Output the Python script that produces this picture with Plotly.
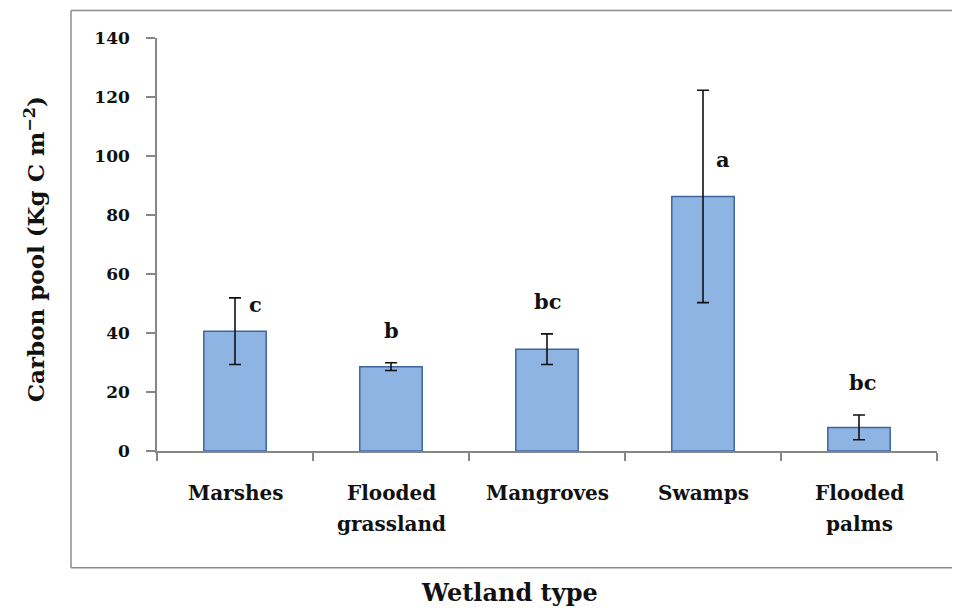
import plotly.graph_objects as go

# ---- data ----
categories = ["Marshes", "Flooded grassland", "Mangroves", "Swamps", "Flooded palms"]
label_line1 = ["Marshes", "Flooded", "Mangroves", "Swamps", "Flooded"]
label_line2 = ["", "grassland", "", "", "palms"]
carbon_pool = [40.6, 28.6, 34.5, 86.3, 8.0]
std_error = [11.3, 1.3, 5.2, 36.0, 4.2]
sig_letters = ["c", "b", "bc", "a", "bc"]
y_ticks = [0, 20, 40, 60, 80, 100, 120, 140]

FONT = "Palatino Linotype, Book Antiqua, Palatino, DejaVu Serif, serif"
TXT = "#111111"
AXC = "#868686"

OFF = 8  # page body margin
W, H = 960 - OFF, 610 - OFF
# plot area in page pixels
PX0, PX1, PY0, PY1 = 157, 937, 37.5, 451
L = PX0 - OFF
T = PY0 - OFF
pw, ph = PX1 - PX0, PY1 - PY0
R = W - L - pw
B = H - T - ph


def px2paper_x(px):
    return (px - PX0) / pw


def px2paper_y(py):
    return (PY1 - py) / ph


fig = go.Figure()
fig.add_trace(go.Bar(
    x=categories, y=carbon_pool,
    marker=dict(color="#8EB4E3", line=dict(color="#3F659C", width=1.5)),
    error_y=dict(type="data", array=std_error, visible=True,
                 color="#111111", thickness=1.6, width=6),
    showlegend=False, hoverinfo="x+y",
))

annotations = []
# category labels (two lines with wide spacing)
for c, l1, l2 in zip(categories, label_line1, label_line2):
    annotations.append(dict(x=c, xref="x", y=px2paper_y(493), yref="paper",
                            text="<b>%s</b>" % l1, showarrow=False,
                            font=dict(family=FONT, size=20, color=TXT),
                            yanchor="middle"))
    if l2:
        annotations.append(dict(x=c, xref="x", y=px2paper_y(524), yref="paper",
                                text="<b>%s</b>" % l2, showarrow=False,
                                font=dict(family=FONT, size=20, color=TXT),
                                yanchor="middle"))

# significance letters
for i, (c, v, e, s) in enumerate(zip(categories, carbon_pool, std_error, sig_letters)):
    if s in ("c", "a"):
        # placed beside the error bar
        ypos = v + (9.0 if s == "c" else 12.5)
        xs = 20
    else:
        ypos = v + e + 11.0
        xs = 3 if i == 4 else 0
    annotations.append(dict(x=c, xref="x", y=ypos, yref="y", text="<b>%s</b>" % s,
                            showarrow=False, xshift=xs, yanchor="middle",
                            font=dict(family=FONT, size=21, color=TXT)))

# axis titles
annotations.append(dict(x=px2paper_x(35), xref="paper", y=px2paper_y(249), yref="paper",
                        text="<b>Carbon pool (Kg C m<sup>\u22122</sup>)</b>", textangle=-90,
                        showarrow=False, xanchor="center", yanchor="middle",
                        font=dict(family=FONT, size=23, color=TXT)))
annotations.append(dict(x=px2paper_x(509), xref="paper", y=px2paper_y(593), yref="paper",
                        text="<b>Wetland type</b>", showarrow=False,
                        xanchor="center", yanchor="middle",
                        font=dict(family=FONT, size=24, color=TXT)))

# open frame (left, top, bottom) around the chart area, as separate lines
fx0, fx1 = px2paper_x(71), px2paper_x(962)
fy0, fy1 = px2paper_y(568), px2paper_y(10)
frame_style = dict(color="#8C8C8C", width=1.5)
frame_lines = [
    dict(type="line", xref="paper", yref="paper", x0=fx0, x1=fx0, y0=fy0, y1=fy1, line=frame_style, layer="below"),
    dict(type="line", xref="paper", yref="paper", x0=fx0, x1=fx1, y0=fy1, y1=fy1, line=frame_style, layer="below"),
    dict(type="line", xref="paper", yref="paper", x0=fx0, x1=fx1, y0=fy0, y1=fy0, line=frame_style, layer="below"),
]

fig.update_layout(
    width=W, height=H,
    margin=dict(l=L, r=R, t=T, b=B, pad=0),
    paper_bgcolor="white", plot_bgcolor="white",
    bargap=0.6,
    font=dict(family=FONT, color=TXT),
    xaxis=dict(showgrid=False, showline=True, linecolor=AXC, linewidth=1.5,
               ticks="outside", ticklen=8, tickcolor=AXC, tickwidth=1.5,
               tickson="boundaries", showticklabels=False, zeroline=False),
    yaxis=dict(range=[0, 140], tickvals=y_ticks, showgrid=False, zeroline=False,
               showline=True, linecolor=AXC, linewidth=1.5,
               ticks="outside", ticklen=9, tickcolor=AXC, tickwidth=1.5,
               ticklabelstandoff=13,
               tickfont=dict(family=FONT, size=17, color=TXT, weight="bold")),
    yaxis2=dict(range=[0, 140], tickvals=y_ticks, overlaying="y", side="left",
                anchor="x", showgrid=False, zeroline=False, showline=False,
                ticks="inside", ticklen=9, tickcolor=AXC, tickwidth=1.5,
                showticklabels=False),
    annotations=annotations,
    shapes=frame_lines,
)

fig.write_html("out.html")
